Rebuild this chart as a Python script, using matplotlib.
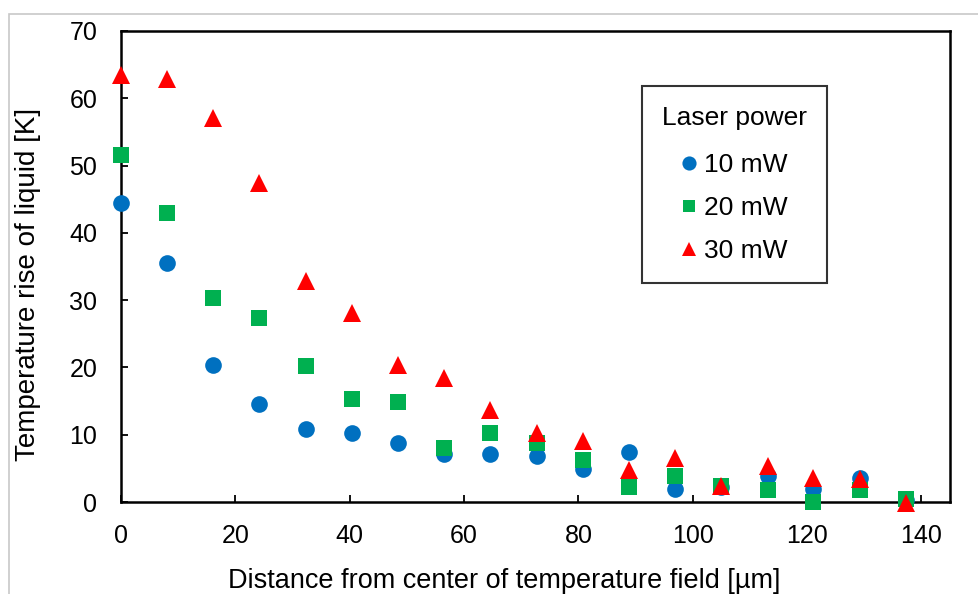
import matplotlib
matplotlib.use("Agg")
import matplotlib.pyplot as plt
from matplotlib.patches import Rectangle

plt.rcParams['font.family'] = ['Liberation Sans', 'DejaVu Sans']

# Distance from the center of the temperature field [µm]
distance = [0, 8.1, 16.1, 24.2, 32.3, 40.4, 48.4, 56.5, 64.6, 72.7,
            80.8, 88.8, 96.9, 105.0, 113.1, 121.1, 129.2, 137.3]

# Temperature rise of liquid [K] for each laser power
rise_10mw = [44.5, 35.5, 20.4, 14.6, 10.9, 10.2, 8.8, 7.1, 7.1, 6.9,
             4.9, 7.5, 1.9, 2.3, 3.8, 1.9, 3.6, 0.3]
rise_20mw = [51.6, 43.0, 30.3, 27.3, 20.2, 15.3, 14.9, 8.0, 10.3, 8.7,
             6.2, 2.3, 3.8, 2.4, 1.8, 0.0, 1.8, 0.5]
rise_30mw = [63.5, 62.9, 57.1, 47.4, 32.9, 28.1, 20.4, 18.4, 13.6, 10.3,
             9.0, 4.7, 6.5, 2.4, 5.3, 3.5, 3.4, -0.1]

series_labels = ["10 mW", "20 mW", "30 mW"]
x_ticks = [0, 20, 40, 60, 80, 100, 120, 140]
y_ticks = [0, 10, 20, 30, 40, 50, 60, 70]

fig = plt.figure(figsize=(9.79, 5.94), dpi=100)
fig.patch.set_facecolor("white")

# thin grey frame around the chart area
fig.patches.append(Rectangle((9 / 979, -0.1), 1.2, 0.1 + (1 - 14 / 594),
                             transform=fig.transFigure, fill=False,
                             edgecolor="#c8c8c8", linewidth=1.2))

ax = fig.add_axes([121 / 979, 1 - 502 / 594, (950 - 121) / 979, (502 - 31) / 594])

styles = [
    dict(marker="o", color="#0070C0", markersize=12),
    dict(marker="s", color="#00B050", markersize=11),
    dict(marker="^", color="#FF0000", markersize=12.5),
]
for values, label, st in zip([rise_10mw, rise_20mw, rise_30mw], series_labels, styles):
    ax.plot(distance, values, linestyle="none", marker=st["marker"],
            markersize=st["markersize"], markerfacecolor=st["color"],
            markeredgecolor=st["color"], markeredgewidth=0, label=label,
            clip_on=False, zorder=3)

ax.set_xlim(0, 145)
ax.set_ylim(0, 70)
ax.set_xticks(x_ticks)
ax.set_yticks(y_ticks)
ax.tick_params(direction="in", length=5, width=1.3, labelsize=18,
               top=False, right=False)
ax.tick_params(axis="x", pad=16)
ax.tick_params(axis="y", pad=17)
for sp in ax.spines.values():
    sp.set_linewidth(1.8)
    sp.set_color("black")

ax.set_xlabel("Distance from center of temperature field [µm]", fontsize=19.5)
ax.xaxis.label.set_va("baseline")
ax.xaxis.set_label_coords(0.462, (502 - 588) / 471)

ax.set_ylabel("Temperature rise of liquid [K]", fontsize=20)
ax.yaxis.label.set_va("center")
ax.yaxis.set_label_coords((28 - 121) / 829, 0.461)

leg = ax.legend(title="Laser power", loc="upper left",
                bbox_to_anchor=(0.6285, 0.883), borderaxespad=0,
                fontsize=19, title_fontsize=19,
                frameon=True, fancybox=False, edgecolor="black",
                handlelength=0.6, handletextpad=0.3, markerscale=0.85,
                labelspacing=0.72, borderpad=0.75)
leg.get_frame().set_linewidth(1.5)
# a little extra room between the legend title and its entries
leg._legend_box.sep = 0.72 * 19 + 3

fig.savefig("out.png", dpi=100)
